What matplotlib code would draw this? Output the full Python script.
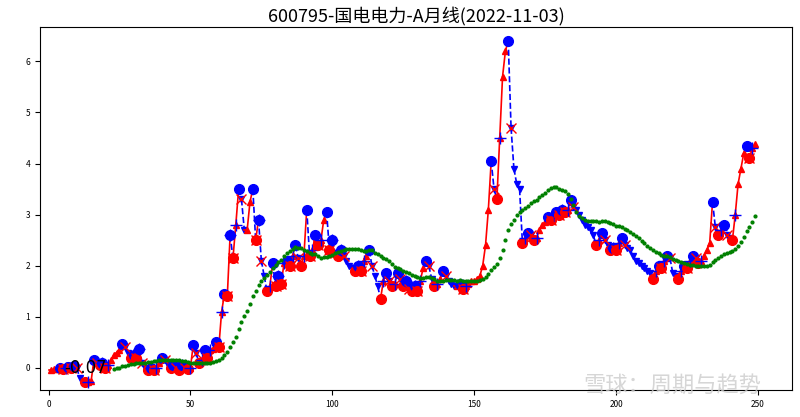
import numpy as np
import pandas as pd
import matplotlib
matplotlib.use("Agg")
import matplotlib.pyplot as plt

plt.rcParams['font.family'] = ['Noto Sans CJK SC', 'DejaVu Sans']
plt.rcParams['axes.unicode_minus'] = False

close = [
-0.05,-0.05,-0.03,-0.02,-0.01,-0.03,0.0,0.02,0.0,0.04,
0.0,-0.2,-0.27,-0.28,-0.27,-0.26,0.15,0.1,0.05,0.1,
0.0,0.05,0.15,0.25,0.3,0.35,0.47,0.4,0.3,0.2,
0.25,0.2,0.37,0.1,0.0,-0.05,0.0,-0.05,0.0,0.1,
0.2,0.15,0.05,0.0,0.05,0.0,-0.05,0.05,0.0,-0.02,
0.0,0.45,0.3,0.1,0.15,0.35,0.2,0.35,0.38,0.5,
0.4,1.1,1.45,1.4,2.6,2.15,2.8,3.5,3.3,2.7,
2.7,3.25,3.5,2.5,2.9,2.1,1.8,1.5,1.6,2.05,
1.6,1.8,1.65,2.05,2.1,2.0,2.2,2.4,2.15,2.0,
2.2,3.1,2.2,2.3,2.6,2.4,2.5,2.9,3.05,2.3,
2.5,2.25,2.2,2.3,2.2,2.1,2.0,1.95,1.9,2.0,
1.9,2.1,2.2,2.3,2.0,1.8,1.6,1.35,1.7,1.85,
1.7,1.6,1.65,1.85,1.75,1.6,1.7,1.55,1.5,1.6,
1.5,1.7,1.95,2.1,2.0,1.75,1.6,1.65,1.75,1.9,
1.8,1.7,1.65,1.6,1.6,1.65,1.55,1.6,1.65,1.7,
1.7,1.75,1.8,2.0,2.4,3.1,4.05,3.5,3.3,4.5,
5.7,6.2,6.4,4.7,3.9,3.6,3.5,2.45,2.55,2.65,
2.6,2.5,2.55,2.7,2.8,2.85,2.95,2.9,3.0,3.05,
3.0,3.1,3.05,3.1,3.28,3.15,3.1,3.0,2.9,2.8,
2.75,2.7,2.6,2.4,2.5,2.65,2.5,2.4,2.3,2.35,
2.3,2.45,2.55,2.4,2.35,2.3,2.2,2.1,2.05,2.0,
1.95,1.9,1.85,1.75,1.9,2.0,1.95,2.1,2.2,2.15,
1.85,1.8,1.75,1.9,2.0,1.95,2.1,2.2,2.15,2.05,
2.1,2.2,2.3,2.45,3.25,2.75,2.6,2.7,2.8,2.6,
2.55,2.5,3.0,3.6,3.9,4.2,4.35,4.1,4.3,4.38,
]
ma_window = 24
label_text = "-0.07"
title = "600795-国电电力-A月线(2022-11-03)"

c = np.array(close)
x = np.arange(len(c))
ma = pd.Series(c).rolling(ma_window).mean()

fig = plt.figure(figsize=(8, 4.17), dpi=100)
ax = fig.add_axes([0.05, 0.065, 0.94, 0.87])

for i in range(1, len(c)):
    up = c[i] >= c[i-1]
    ax.plot(x[i-1:i+1], c[i-1:i+1], color='red' if up else 'blue',
            ls='-' if up else '--', lw=1.2)
    mk = '^' if up else 'v'
    ax.plot(x[i], c[i], marker=mk, color='red' if up else 'blue', ms=5, ls='none')
for i in range(1, len(c)-1):
    if c[i] > c[i-1] and c[i] > c[i+1]:
        ax.plot(x[i], c[i], 'o', color='blue', ms=7)
        ax.plot(x[i+1], c[i+1], 'x', color='red', ms=7)
    elif c[i] < c[i-1] and c[i] < c[i+1]:
        ax.plot(x[i], c[i], 'o', color='red', ms=7)
        ax.plot(x[i+1], c[i+1], '+', color='blue', ms=8)

ax.plot(x, ma, ls='none', marker='o', ms=2, color='green')
ax.text(5.5, 0.0, label_text, fontsize=12, va='center', family=['DejaVu Sans'])

ax.set_xlim(-3, 262)
ax.set_ylim(-0.43, 6.67)
ax.tick_params(labelsize=6)
ax.set_title(title, fontsize=13, pad=4)
fig.text(0.84, 0.06, "雪球：周期与趋势", fontsize=16, color='#cccccc', ha='center', alpha=0.8)
fig.savefig("out.png")
